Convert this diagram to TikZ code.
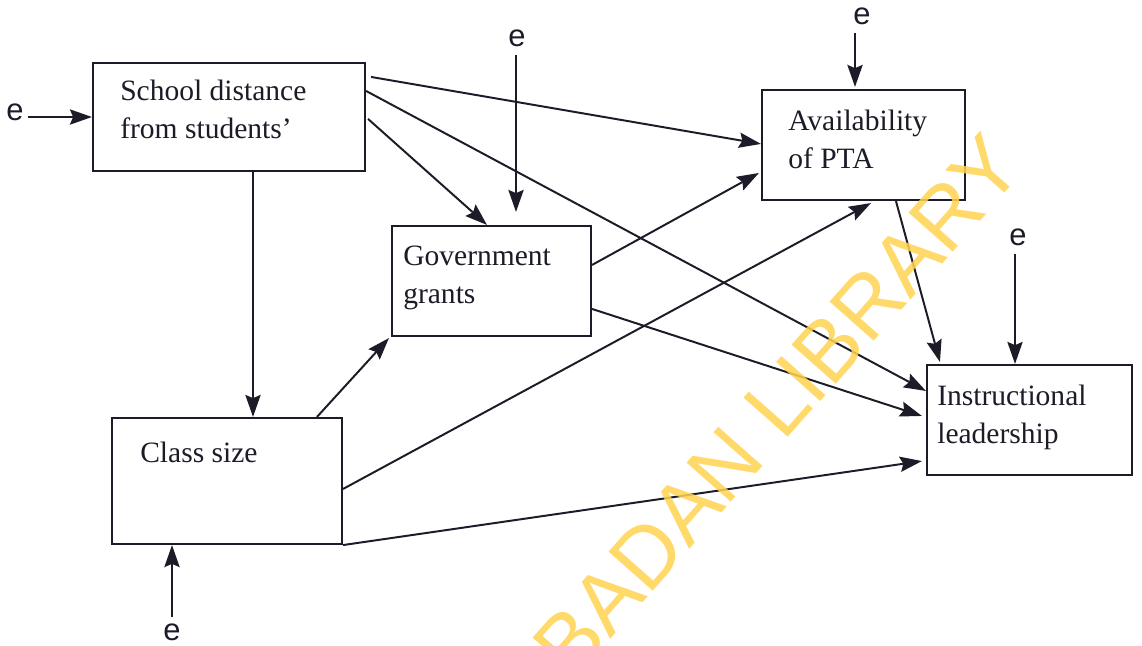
\documentclass[tikz,border=0pt]{standalone}
\usepackage{fontspec}
\setmainfont{Liberation Serif}
\newfontfamily\esans{Liberation Sans}
\usetikzlibrary{arrows.meta,calc,fit}
\definecolor{ink}{RGB}{28,28,40}
\definecolor{wmark}{RGB}{255,212,80}
\tikzset{
  boxnode/.style={draw=ink, line width=1.5pt, inner sep=0pt},
  lbl/.style={anchor=north west, inner sep=0pt, align=left, text=ink, font=\fontsize{21}{27}\selectfont},
  elbl/.style={inner sep=0pt, text=ink, font=\esans\fontsize{22}{24}\selectfont},
  conn/.style={draw=ink, line width=1.4pt, -{Stealth[length=0.55cm, width=0.38cm, inset=0.08cm]}},
}
\begin{document}
\begin{tikzpicture}[x=0.025cm, y=-0.025cm]
\useasboundingbox (0,0) rectangle (1142,645);
\fill[white] (0,0) rectangle (1142,645);
% boxes
\node[boxnode, fit={(93,63) (365,171)}] (sd) {};
\node[boxnode, fit={(392,226) (591,336)}] (gg) {};
\node[boxnode, fit={(762,90) (965,200)}] (pta) {};
\node[boxnode, fit={(112,418) (342,544)}] (cs) {};
\node[boxnode, fit={(927,365) (1132,475)}] (il) {};
% texts
\node[lbl] (sdt) at (120,80) {School distance\\from students'};
\node[lbl] (ggt) at (403,246) {Government\\grants};
\node[lbl] (ptat) at (788,110) {Availability\\of PTA};
\node[lbl] (cst) at (140,442) {Class size};
\node[lbl] (ilt) at (937,385) {Instructional\\leadership};
% error terms
\node[elbl] (e1) at (15,112) {e};
\node[elbl] (e2) at (517,38) {e};
\node[elbl] (e3) at (862,16) {e};
\node[elbl] (e4) at (1018,237) {e};
\node[elbl] (e5) at (172,632) {e};
% connectors
\draw[conn] (e1.east) ++(4,5) coordinate (e1s) -- (e1s -| sd.west);
\draw[conn] (sd.south -| 253,0) -- (cs.north -| 253,0);
\draw[conn] ($(sd.north east)+(5,15)$) -- ($(pta.north west)+(0,55)$);
\draw[conn] ($(sd.north east)+(0,29)$) -- ($(il.north west)+(0,27)$);
\draw[conn] ($(sd.north east)+(2,57)$) -- (gg.north -| 487,0);
\draw[conn] ($(e2.south)+(-1,8)$) -- ($(gg.north -| 516,0)+(0,-13)$);
\draw[conn] ($(e3.south)+(-7,8)$) -- ($(pta.north -| 855,0)+(0,-2)$);
\draw[conn] ($(gg.north east)+(0,40)$) -- ($(pta.north west)+(-2,84)$);
\draw[conn] ($(gg.north east)+(0,84)$) -- ($(il.north west)+(-4,52)$);
\draw[conn] ($(cs.north west)+(206,0)$) -- ($(gg.south west)+(-2,1)$);
\draw[conn] ($(cs.north east)+(0,72)$) -- ($(pta.south west)+(110,2)$);
\draw[conn] (cs.south east) -- ($(il.south west)+(-4,-15)$);
\draw[conn] ($(pta.south west)+(135,0)$) -- ($(il.north west)+(14,-2)$);
\draw[conn] ($(e4.south)+(-3,8)$) -- (il.north -| 1015,0);
\draw[conn] ($(e5.north)+(0,-6)$) -- (cs.south -| 172,0);
% watermark
\begin{scope}
\clip (0,0) rectangle (1142,645);
\node[text=wmark, opacity=0.85, rotate=48.5, inner sep=0pt, font=\esans\fontsize{61}{64}\selectfont] (wm) at (777,406) {BADAN LIBRARY};
\end{scope}
\end{tikzpicture}
\end{document}
